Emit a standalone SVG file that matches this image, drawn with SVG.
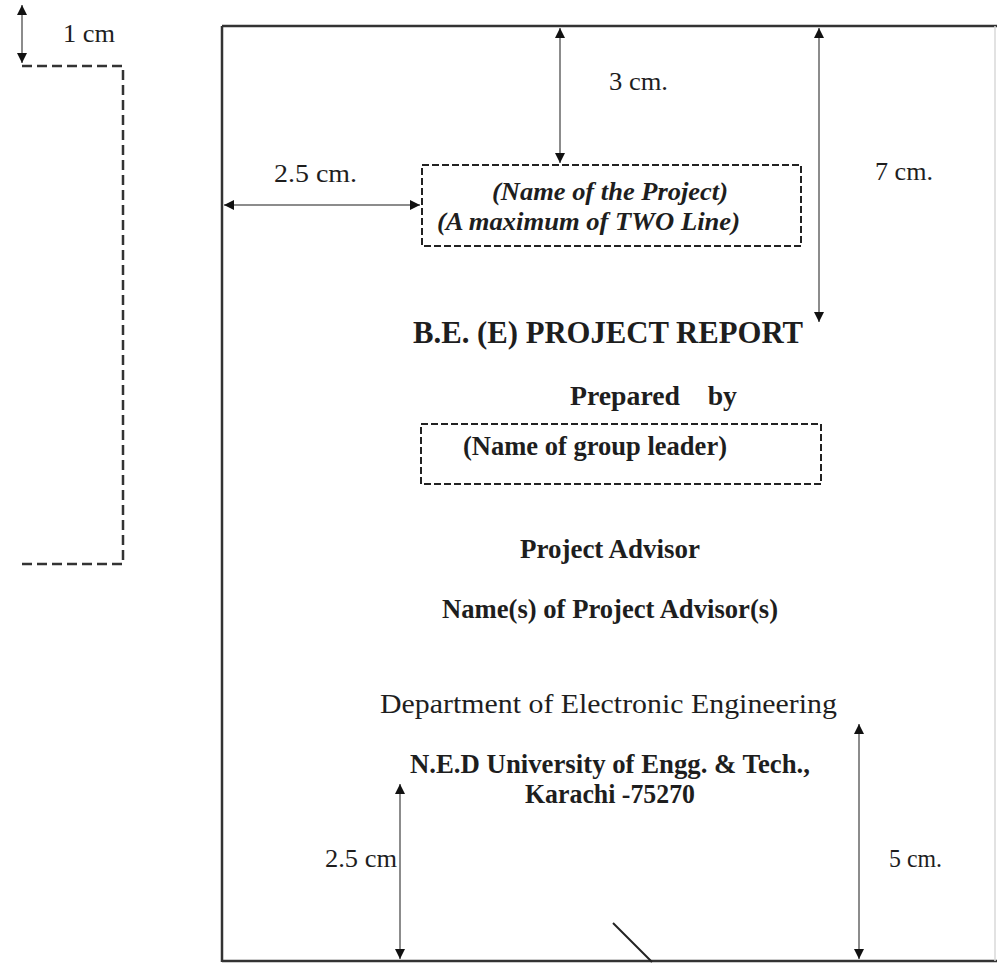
<svg xmlns="http://www.w3.org/2000/svg" width="997" height="964" viewBox="0 0 997 964">
<style>
.t{font-family:"Liberation Serif","Times New Roman",serif;fill:#1e1e1e}
.b{font-weight:bold}
.i{font-style:italic;font-weight:bold}
.dim{stroke:#8c8c8c;stroke-width:2;fill:none;marker-start:url(#ah);marker-end:url(#ah)}
.dash{fill:none;stroke:#222;stroke-width:2;stroke-dasharray:7 3}
</style>
<defs>
<marker id="ah" viewBox="0 0 10 10" refX="10" refY="5" markerWidth="5" markerHeight="5" orient="auto-start-reverse">
<path d="M0,0 L10,5 L0,10 z" fill="#111"/>
</marker>
</defs>
<rect width="997" height="964" fill="#fff"/>

<g id="page">
<line x1="222" y1="26" x2="997" y2="26" stroke="#333" stroke-width="2.5"/>
<line x1="222" y1="26" x2="222" y2="962" stroke="#333" stroke-width="2.5"/>
<line x1="222" y1="961" x2="997" y2="961" stroke="#333" stroke-width="2.5"/>
<line x1="995" y1="26" x2="995" y2="961" stroke="#d8d8d8" stroke-width="1.5"/>
<line x1="613" y1="923" x2="652" y2="962" stroke="#222" stroke-width="2"/>
</g>

<g id="margin-guide">
<polyline points="22,66 123,66 123,564 22,564" fill="none" stroke="#333" stroke-width="2.5" stroke-dasharray="10 5"/>
<text class="t" x="63" y="42" font-size="25" textLength="52" lengthAdjust="spacingAndGlyphs">1 cm</text>
</g>

<g id="title-box">
<rect class="dash" x="422" y="165" width="379" height="81"/>
<text class="t i" x="492" y="200" font-size="25" textLength="236" lengthAdjust="spacingAndGlyphs">(Name of the Project)</text>
<text class="t i" x="437" y="230" font-size="25" textLength="303" lengthAdjust="spacingAndGlyphs">(A maximum of TWO Line)</text>
</g>

<g id="report-title">
<text class="t b" x="413" y="343" font-size="31" textLength="390" lengthAdjust="spacingAndGlyphs">B.E. (E) PROJECT REPORT</text>
</g>

<g id="prepared-by">
<text class="t b" x="570" y="405" font-size="27" textLength="167" lengthAdjust="spacingAndGlyphs" xml:space="preserve">Prepared    by</text>
</g>

<g id="leader-box">
<rect class="dash" x="421" y="424" width="400" height="60"/>
<text class="t b" x="463" y="455" font-size="27" textLength="264" lengthAdjust="spacingAndGlyphs">(Name of group leader)</text>
</g>

<g id="advisor">
<text class="t b" x="520" y="558" font-size="27" textLength="180" lengthAdjust="spacingAndGlyphs">Project Advisor</text>
<text class="t b" x="442" y="618" font-size="27" textLength="336" lengthAdjust="spacingAndGlyphs">Name(s) of Project Advisor(s)</text>
</g>

<g id="department">
<text class="t" x="380" y="713" font-size="28" textLength="457" lengthAdjust="spacingAndGlyphs">Department of Electronic Engineering</text>
</g>

<g id="university">
<text class="t b" x="410" y="773" font-size="27" textLength="400" lengthAdjust="spacingAndGlyphs">N.E.D University of Engg. &amp; Tech.,</text>
<text class="t b" x="525" y="803" font-size="27" textLength="170" lengthAdjust="spacingAndGlyphs">Karachi -75270</text>
</g>

<g id="dimension-labels">
<text class="t" x="609" y="90" font-size="25" textLength="59" lengthAdjust="spacingAndGlyphs">3 cm.</text>
<text class="t" x="274" y="182" font-size="25" textLength="83" lengthAdjust="spacingAndGlyphs">2.5 cm.</text>
<text class="t" x="875" y="180" font-size="25" textLength="58" lengthAdjust="spacingAndGlyphs">7 cm.</text>
<text class="t" x="325" y="867" font-size="25" textLength="72" lengthAdjust="spacingAndGlyphs">2.5 cm</text>
<text class="t" x="889" y="867" font-size="25" textLength="53" lengthAdjust="spacingAndGlyphs">5 cm.</text>
</g>

<g id="connectors">
<line class="dim" x1="22" y1="5" x2="22" y2="63"/>
<line class="dim" x1="560" y1="28" x2="560" y2="163"/>
<line class="dim" x1="224" y1="205" x2="420" y2="205"/>
<line class="dim" x1="819" y1="28" x2="819" y2="322"/>
<line class="dim" x1="400" y1="784" x2="400" y2="959"/>
<line class="dim" x1="859" y1="724" x2="859" y2="959"/>
</g>
</svg>
